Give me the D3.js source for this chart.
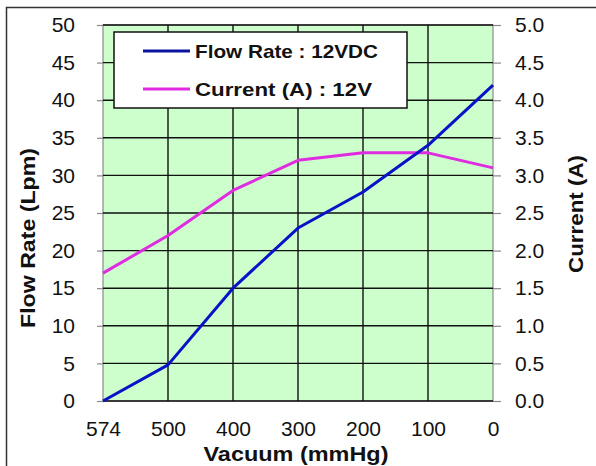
<!DOCTYPE html>
<html><head><meta charset="utf-8">
<script src="https://cdn.jsdelivr.net/npm/d3@7"></script>
<style>body{margin:0;background:#fff}svg{display:block}</style>
</head><body>
<script>
const categories = ["574","500","400","300","200","100","0"];
const flowRate = [0, 4.8, 15, 23, 27.8, 34, 42];
const current = [1.7, 2.2, 2.8, 3.2, 3.3, 3.3, 3.1];
const leftTicks = [0,5,10,15,20,25,30,35,40,45,50];
const rightTicks = [0,0.5,1,1.5,2,2.5,3,3.5,4,4.5,5];
const seriesNames = ["Flow Rate : 12VDC", "Current (A) : 12V"];

const W = 596, H = 466;
const m = {l:103, r:493, t:25, b:401};
const font = "'Liberation Sans', Arial, sans-serif";
const svg = d3.select("body").append("svg").attr("width", W).attr("height", H);

// outer border
svg.append("rect").attr("x",6.5).attr("y",7.5).attr("width",620).attr("height",500)
  .attr("fill","none").attr("stroke","#333").attr("stroke-width",1.5);

const x = d3.scalePoint().domain(categories).range([m.l, m.r]);
const yL = d3.scaleLinear().domain([0,50]).range([m.b, m.t]);
const yR = d3.scaleLinear().domain([0,5]).range([m.b, m.t]);

// plot area
svg.append("rect").attr("x",m.l).attr("y",m.t).attr("width",m.r-m.l).attr("height",m.b-m.t)
  .attr("fill","#ccffcc").attr("stroke","#8a8a8a").attr("stroke-width",1.2);

// horizontal grid
svg.append("g").selectAll("line").data(leftTicks).join("line")
  .attr("x1",m.l).attr("x2",m.r).attr("y1",d=>yL(d)).attr("y2",d=>yL(d))
  .attr("stroke","#111").attr("stroke-width",1.4);
// vertical grid (inner)
svg.append("g").selectAll("line").data(categories.slice(1,-1)).join("line")
  .attr("x1",d=>x(d)).attr("x2",d=>x(d)).attr("y1",m.t).attr("y2",m.b)
  .attr("stroke","#111").attr("stroke-width",1.4);

// axes
const axL = d3.axisLeft(yL).tickValues(leftTicks).tickSize(6).tickPadding(22);
const gL = svg.append("g").attr("transform",`translate(${m.l},0)`).call(axL);
const axR = d3.axisRight(yR).tickValues(rightTicks).tickSize(8).tickPadding(14).tickFormat(d3.format(".1f"));
const gR = svg.append("g").attr("transform",`translate(${m.r},0)`).call(axR);
const axB = d3.axisBottom(x).tickSize(0).tickPadding(20);
const gB = svg.append("g").attr("transform",`translate(0,${m.b})`).call(axB);
[gL,gR,gB].forEach(g=>{
  g.select(".domain").remove();
  g.selectAll(".tick line").attr("stroke","#888").attr("stroke-width",1.2);
  g.selectAll("text").attr("font-family",font).attr("font-size",21).attr("fill","#111");
});

// lines
const lineL = d3.line().x((d,i)=>x(categories[i])).y(d=>yL(d));
const lineR = d3.line().x((d,i)=>x(categories[i])).y(d=>yR(d));
svg.append("path").datum(current).attr("d",lineR).attr("fill","none")
  .attr("stroke","#e02ce0").attr("stroke-width",3).attr("stroke-linejoin","round");
svg.append("path").datum(flowRate).attr("d",lineL).attr("fill","none")
  .attr("stroke","#0a12c8").attr("stroke-width",3).attr("stroke-linejoin","round");

// legend
const lg = svg.append("g");
lg.append("rect").attr("x",114).attr("y",32).attr("width",293).attr("height",76)
  .attr("fill","#fff").attr("stroke","#111").attr("stroke-width",1.5);
const colors = ["#0a12a0","#e02ce0"];
const legendWidths = [183, 177];
seriesNames.forEach((n,i)=>{
  const yy = 51 + i*38;
  lg.append("line").attr("x1",143).attr("x2",190).attr("y1",yy).attr("y2",yy)
    .attr("stroke",colors[i]).attr("stroke-width",3);
  lg.append("text").attr("x",195).attr("y",yy+7).text(n)
    .attr("textLength",legendWidths[i]).attr("lengthAdjust","spacingAndGlyphs")
    .attr("font-family",font).attr("font-weight","bold").attr("font-size",19).attr("fill","#111");
});

// axis titles
svg.append("text").attr("transform","translate(35,238) rotate(-90)").attr("text-anchor","middle")
  .attr("font-family",font).attr("font-weight","bold").attr("font-size",20).attr("fill","#111")
  .attr("textLength",180).attr("lengthAdjust","spacingAndGlyphs")
  .text("Flow Rate (Lpm)");
svg.append("text").attr("transform","translate(583,214) rotate(-90)").attr("text-anchor","middle")
  .attr("font-family",font).attr("font-weight","bold").attr("font-size",20).attr("fill","#111")
  .attr("textLength",118).attr("lengthAdjust","spacingAndGlyphs")
  .text("Current (A)");
svg.append("text").attr("x",296).attr("y",461).attr("text-anchor","middle")
  .attr("font-family",font).attr("font-weight","bold").attr("font-size",20).attr("fill","#111")
  .attr("textLength",185).attr("lengthAdjust","spacingAndGlyphs")
  .text("Vacuum (mmHg)");
</script>
</body></html>
